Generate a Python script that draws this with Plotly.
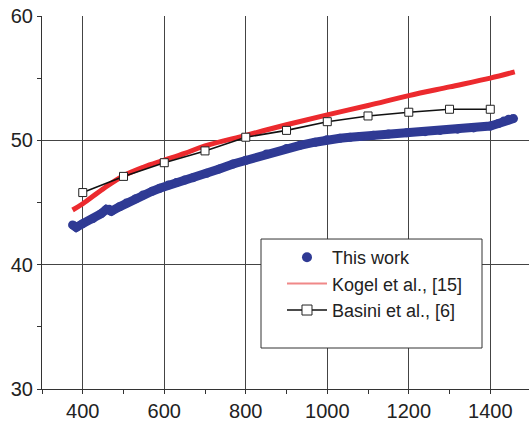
import plotly.graph_objects as go

# ---- data ----
this_work_x = [375, 384, 400, 425, 445, 458, 465, 470, 490, 507, 530, 548, 570, 589, 610, 630, 650, 671,
               704, 735, 769, 800, 851, 900, 933, 970, 999, 1031, 1056, 1080, 1113, 1150, 1195, 1240,
               1277, 1320, 1359, 1400, 1420, 1433, 1445, 1457]
this_work_y = [43.2, 43.0, 43.3, 43.7, 44.1, 44.45, 44.45, 44.3, 44.65, 44.95, 45.3, 45.6, 45.9, 46.15,
               46.4, 46.6, 46.8, 47.0, 47.35, 47.7, 48.1, 48.4, 48.9, 49.35, 49.6, 49.85, 50.05, 50.17,
               50.25, 50.3, 50.4, 50.5, 50.6, 50.7, 50.8, 50.9, 51.0, 51.15, 51.35, 51.55, 51.7, 51.75]

kogel_x = [375, 400, 450, 500, 550, 600, 650, 700, 800, 900, 1000, 1100, 1200, 1300, 1400, 1460]
kogel_y = [44.4, 44.9, 46.1, 47.15, 47.85, 48.4, 48.95, 49.55, 50.4, 51.25, 52.05, 52.8, 53.6, 54.3, 55.0, 55.5]

basini_x = [400, 500, 600, 700, 800, 900, 1000, 1100, 1200, 1300, 1400]
basini_y = [45.8, 47.1, 48.2, 49.15, 50.25, 50.8, 51.5, 51.96, 52.26, 52.5, 52.5]

x_ticks = [400, 600, 800, 1000, 1200, 1400]
y_ticks = [30, 40, 50, 60]

BLUE = "#2f3a94"
RED = "#ec2a2e"
FONT = "Liberation Sans, Arial, sans-serif"

fig = go.Figure()

# plotted curves (legend handled by separate entries)
fig.add_trace(go.Scatter(x=this_work_x, y=this_work_y, mode="lines+markers",
                         line=dict(color=BLUE, width=9), marker=dict(color=BLUE, size=9),
                         showlegend=False, hoverinfo="skip"))
fig.add_trace(go.Scatter(x=kogel_x, y=kogel_y, mode="lines", line=dict(color=RED, width=5, shape="spline"),
                         showlegend=False, hoverinfo="skip"))
fig.add_trace(go.Scatter(x=basini_x, y=basini_y, mode="lines+markers",
                         line=dict(color="#111111", width=1.6),
                         marker=dict(symbol="square", size=8, color="white", line=dict(color="#222222", width=1)),
                         showlegend=False))

# legend entries
fig.add_trace(go.Scatter(x=[None], y=[None], mode="markers", name="This work",
                         marker=dict(color=BLUE, size=10)))
fig.add_trace(go.Scatter(x=[None], y=[None], mode="lines", name="Kogel et al., [15]",
                         line=dict(color="#f08888", width=2)))
fig.add_trace(go.Scatter(x=[None], y=[None], mode="lines+markers", name="Basini et al., [6]",
                         line=dict(color="#111111", width=1.6),
                         marker=dict(symbol="square", size=10, color="white", line=dict(color="#222222", width=1))))

# legend frame (drawn as a box so its size matches the reference)
fig.add_shape(type="rect", xref="paper", yref="paper", x0=0.4497, x1=0.9035, y0=0.1099, y1=0.4021,
              fillcolor="white", line=dict(color="#333333", width=1), layer="above")

fig.update_layout(
    width=529, height=423,
    margin=dict(l=42, r=0, t=16, b=34),
    paper_bgcolor="white", plot_bgcolor="white",
    font=dict(family=FONT, color="#222222"),
    legend=dict(x=0.4928, y=0.4021, xanchor="left", yanchor="top",
                bgcolor="rgba(0,0,0,0)", borderwidth=0,
                font=dict(size=18, family=FONT, color="#222222"),
                itemwidth=40, tracegroupgap=0),
)
fig.update_xaxes(range=[300, 1495], tickvals=x_ticks, ticktext=[str(v) for v in x_ticks],
                 ticks="outside", ticklen=4, tickcolor="#333333", automargin=False,
                 showgrid=True, gridcolor="#444444", gridwidth=1,
                 showline=True, linecolor="#333333", linewidth=1, zeroline=False,
                 tickfont=dict(size=20, family=FONT, color="#222222"),
                 minor=dict(dtick=100, tick0=300, ticks="outside", ticklen=4, tickcolor="#333333", showgrid=False))
fig.update_yaxes(range=[30, 60], tickvals=y_ticks, ticktext=[str(v) for v in y_ticks],
                 ticks="outside", ticklen=4, tickcolor="#333333", automargin=False,
                 showgrid=True, gridcolor="#444444", gridwidth=1,
                 showline=True, linecolor="#333333", linewidth=1, zeroline=False,
                 tickfont=dict(size=20, family=FONT, color="#222222"),
                 minor=dict(dtick=5, tick0=30, ticks="outside", ticklen=4, tickcolor="#333333", showgrid=False))

fig.write_html("out.html", config={"displayModeBar": False},
               post_script="document.body.style.margin='0';")
